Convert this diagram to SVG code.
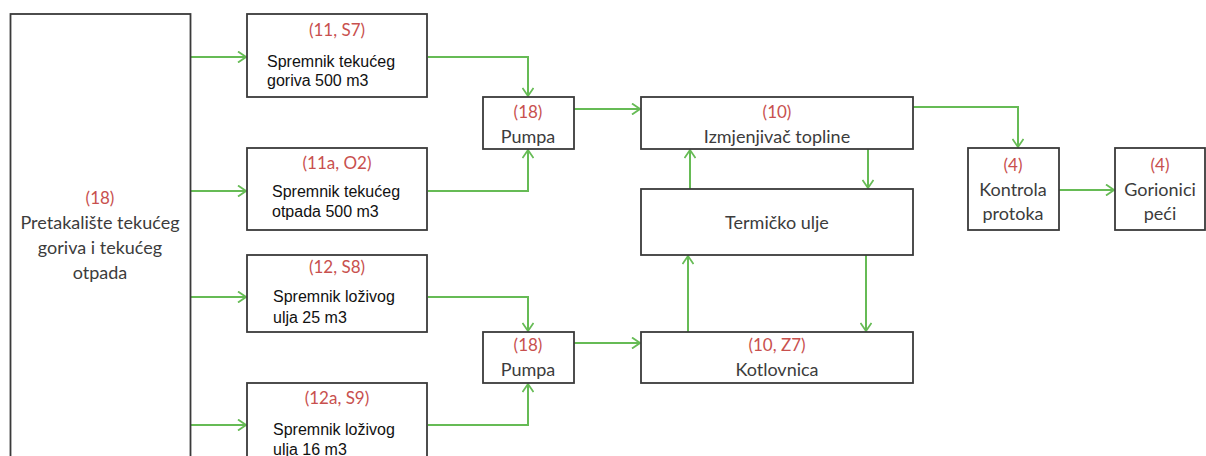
<svg xmlns="http://www.w3.org/2000/svg" width="1206" height="456" viewBox="0 0 1206 456">
<defs>
<style>
.box{fill:#fff;stroke:#3a3a3a;stroke-width:1.8}
.lbl{font-family:Lato,"Open Sans",sans-serif;font-size:18px;fill:#3c3c3c;text-anchor:middle}
.red{font-family:Lato,"Open Sans",sans-serif;font-size:17px;fill:#c8504e;text-anchor:middle}
.tk{font-family:"Liberation Sans",Arial,sans-serif;font-size:16px;fill:#111}
.con{fill:none;stroke:#66bb55;stroke-width:2;marker-end:url(#arr)}
</style>
<marker id="arr" viewBox="0 0 10 12" refX="9" refY="6" markerWidth="10" markerHeight="12" markerUnits="userSpaceOnUse" orient="auto">
<path d="M1,0.5 L9,6 L1,11.5" fill="none" stroke="#66bb55" stroke-width="1.8"/>
</marker>
</defs>
<rect width="1206" height="456" fill="#fff"/>
<g id="connectors">
<path class="con" d="M190,57 H246"/>
<path class="con" d="M190,191 H246"/>
<path class="con" d="M190,297 H246"/>
<path class="con" d="M190,425 H246"/>
<path class="con" d="M428,57 H528 V96"/>
<path class="con" d="M428,191 H528 V150"/>
<path class="con" d="M574,109 H640"/>
<path class="con" d="M913,107 H1018 V147"/>
<path class="con" d="M868,149 V188"/>
<path class="con" d="M690,189 V150"/>
<path class="con" d="M688,332 V256"/>
<path class="con" d="M866,255 V331"/>
<path class="con" d="M574,343 H640"/>
<path class="con" d="M428,297 H528 V331"/>
<path class="con" d="M428,425 H528 V384"/>
<path class="con" d="M1059,190 H1114"/>
</g>
<g id="pretakaliste">
<rect class="box" x="10.5" y="14" width="180" height="460"/>
<text class="red" x="100" y="204">(18)</text>
<text class="lbl" x="100" y="229">Pretakalište tekućeg</text>
<text class="lbl" x="100" y="254">goriva i tekućeg</text>
<text class="lbl" x="100" y="279">otpada</text>
</g>
<g id="spremnik1">
<rect class="box" x="247" y="14" width="180" height="83"/>
<text class="red" x="337" y="36">(11, S7)</text>
<text class="tk" x="267" y="67">Spremnik tekućeg</text>
<text class="tk" x="267" y="86">goriva 500 m3</text>
</g>
<g id="spremnik2">
<rect class="box" x="247" y="148" width="180" height="82"/>
<text class="red" x="337" y="169">(11a, O2)</text>
<text class="tk" x="272" y="197">Spremnik tekućeg</text>
<text class="tk" x="272" y="217">otpada 500 m3</text>
</g>
<g id="spremnik3">
<rect class="box" x="247" y="255" width="180" height="77"/>
<text class="red" x="337" y="273">(12, S8)</text>
<text class="tk" x="273" y="302">Spremnik loživog</text>
<text class="tk" x="273" y="323">ulja 25 m3</text>
</g>
<g id="spremnik4">
<rect class="box" x="247" y="383" width="180" height="90"/>
<text class="red" x="337" y="404">(12a, S9)</text>
<text class="tk" x="273" y="435">Spremnik loživog</text>
<text class="tk" x="273" y="455">ulja 16 m3</text>
</g>
<g id="pumpa1">
<rect class="box" x="483" y="97" width="91" height="52"/>
<text class="red" x="528" y="118">(18)</text>
<text class="lbl" x="528" y="143">Pumpa</text>
</g>
<g id="pumpa2">
<rect class="box" x="483" y="332" width="91" height="51"/>
<text class="red" x="528" y="351">(18)</text>
<text class="lbl" x="528" y="376">Pumpa</text>
</g>
<g id="izmjenjivac">
<rect class="box" x="641" y="97" width="272" height="52"/>
<text class="red" x="777" y="118">(10)</text>
<text class="lbl" x="777" y="143">Izmjenjivač topline</text>
</g>
<g id="termicko">
<rect class="box" x="641" y="189" width="272" height="66"/>
<text class="lbl" x="777" y="229">Termičko ulje</text>
</g>
<g id="kotlovnica">
<rect class="box" x="641" y="332" width="272" height="51"/>
<text class="red" x="777" y="351">(10, Z7)</text>
<text class="lbl" x="777" y="376">Kotlovnica</text>
</g>
<g id="kontrola">
<rect class="box" x="968" y="148" width="91" height="82"/>
<text class="red" x="1013" y="171">(4)</text>
<text class="lbl" x="1013" y="196">Kontrola</text>
<text class="lbl" x="1013" y="220">protoka</text>
</g>
<g id="gorionici">
<rect class="box" x="1115" y="148" width="90" height="82"/>
<text class="red" x="1160" y="171">(4)</text>
<text class="lbl" x="1160" y="196">Gorionici</text>
<text class="lbl" x="1160" y="220">peći</text>
</g>
</svg>
